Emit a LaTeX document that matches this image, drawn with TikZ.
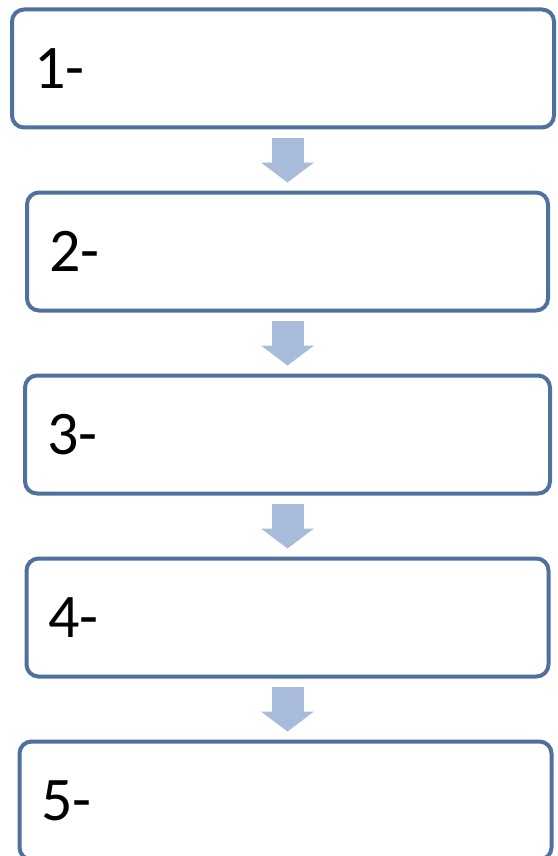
\documentclass[tikz,border=0pt]{standalone}
\usepackage{fontspec}
\setmainfont{Carlito}
\usetikzlibrary{positioning,arrows.meta}
\definecolor{boxline}{RGB}{79,113,158}
\definecolor{arrowfill}{RGB}{169,187,218}

\begin{document}
\begin{tikzpicture}[x=1pt,y=-1pt,node distance=65pt]
                \tikzstyle{stage} = [rectangle, rounded corners=12pt, draw=boxline, line width=4pt, fill=white, minimum height=118pt, outer sep=0pt, inner xsep=22pt, align=left, font=\fontsize{62}{62}\selectfont]
                \tikzstyle{arrow} = [draw=arrowfill, line width=32pt, -{Triangle[width=53pt,length=20pt,line width=0pt]}, shorten <=10pt, shorten >=10pt]
                \useasboundingbox (0,0) rectangle (557,856);
                \fill [white] (0,0) rectangle (557,856);
                \clip (0,0) rectangle (557,856);
                \node (node1) [stage, text width=498pt] at (283,68.5) {1-};
                \node (node2) [stage, text width=477pt, below=of node1, xshift=4.5pt] {2-};
                \node (node3) [stage, text width=481pt, below=of node2] {3-};
                \node (node4) [stage, text width=478pt, below=of node3] {4-};
                \node (node5) [stage, text width=488pt, below=of node4, xshift=-2pt] {5-};

                \draw [arrow] (node1.south -| node2.north) -- (node2.north);
                \draw [arrow] (node2.south) -- (node3.north);
                \draw [arrow] (node3.south) -- (node4.north);
                \draw [arrow] (node4.south) -- (node4.south |- node5.north);
            \end{tikzpicture}
\end{document}
